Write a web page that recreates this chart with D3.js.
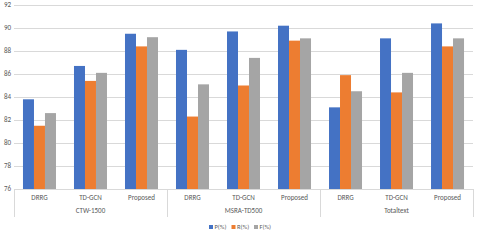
<!DOCTYPE html>
<html>
<head>
<meta charset="utf-8">
<script src="https://cdn.jsdelivr.net/npm/d3@7"></script>
<style>
  body { margin: 0; background: #fff; }
  svg { display: block; font-family: Carlito, "Liberation Sans", Arial, sans-serif; }
  .grid line { stroke: #d9d9d9; stroke-width: 1; }
  .tick-label { fill: #595959; font-size: 7px; }
</style>
</head>
<body>
<div id="chart"></div>
<script>
// data
const datasets = ['CTW-1500', 'MSRA-TD500', 'Totaltext'];
const methods = ['DRRG', 'TD-GCN', 'Proposed'];
const seriesNames = ['P(%)', 'R(%)', 'F(%)'];
const precision = [83.8, 86.7, 89.5, 88.1, 89.7, 90.2, 83.1, 89.1, 90.4];
const recall = [81.5, 85.4, 88.4, 82.3, 85.0, 88.9, 85.9, 84.4, 88.4];
const fscore = [82.6, 86.1, 89.2, 85.1, 87.4, 89.1, 84.5, 86.1, 89.1];
const yTicks = [76, 78, 80, 82, 84, 86, 88, 90, 92];

const colors = ['#4472c4', '#ed7d31', '#a5a5a5'];
const width = 480;
const height = 243;
const margin = {top: 5, right: 7, bottom: 54, left: 14};
const chartWidth = width - margin.left - margin.right;
const chartHeight = height - margin.top - margin.bottom;

const rows = [];
datasets.forEach((ds, i) => {
    methods.forEach((m, j) => {
        const k = i * methods.length + j;
        rows.push({key: ds + '|' + m, dataset: ds, method: m, values: [precision[k], recall[k], fscore[k]]});
    });
});

const svg = d3.select('#chart')
  .append('svg')
    .attr('width', width)
    .attr('height', height);

const g = svg.append('g')
    .attr('transform', `translate(${margin.left},${margin.top})`);

const xGroup = d3.scaleBand()
    .domain(datasets)
    .range([0, chartWidth]);

const xCat = d3.scaleBand()
    .domain(rows.map(d => d.key))
    .range([0, chartWidth])
    .paddingInner(0.353)
    .paddingOuter(0.176);

const xSeries = d3.scaleBand()
    .domain(seriesNames)
    .range([0, xCat.bandwidth()]);

const y = d3.scaleLinear()
    .domain([76, 92])
    .range([chartHeight, 0]);

// gridlines
g.append('g')
    .classed('grid', true)
  .selectAll('line')
    .data(yTicks)
  .enter()
  .append('line')
    .attr('x1', 0)
    .attr('x2', chartWidth)
    .attr('y1', d => Math.round(y(d)) + 0.5)
    .attr('y2', d => Math.round(y(d)) + 0.5);

// y labels
g.append('g')
  .selectAll('text')
    .data(yTicks)
  .enter()
  .append('text')
    .classed('tick-label', true)
    .attr('x', -3)
    .attr('y', d => y(d))
    .attr('dy', '0.35em')
    .attr('text-anchor', 'end')
    .text(d => d);

// bars
const cat = g.append('g')
  .selectAll('g')
    .data(rows)
  .enter()
  .append('g')
    .attr('transform', d => `translate(${xCat(d.key)},0)`);

cat.selectAll('rect')
    .data(d => d.values.map((v, i) => ({series: seriesNames[i], value: v, i})))
  .enter()
  .append('rect')
    .attr('x', d => xSeries(d.series))
    .attr('width', xSeries.bandwidth())
    .attr('y', d => y(d.value))
    .attr('height', d => chartHeight - y(d.value))
    .attr('fill', d => colors[d.i]);

// category axis (multi-level)
const axis = g.append('g')
    .attr('transform', `translate(0,${chartHeight})`);

axis.append('line')
    .attr('x1', 0).attr('x2', chartWidth)
    .attr('y1', 0.5).attr('y2', 0.5)
    .attr('stroke', '#d9d9d9');

const bounds = datasets.map(d => xGroup(d)).concat([chartWidth]);
axis.selectAll('.sep')
    .data(bounds)
  .enter()
  .append('line')
    .attr('x1', d => Math.round(d) + 0.5)
    .attr('x2', d => Math.round(d) + 0.5)
    .attr('y1', 0)
    .attr('y2', 28)
    .attr('stroke', '#d9d9d9');

axis.selectAll('.cat-label')
    .data(rows)
  .enter()
  .append('text')
    .classed('tick-label', true)
    .attr('x', d => xCat(d.key) + xCat.bandwidth() / 2)
    .attr('y', 11)
    .attr('text-anchor', 'middle')
    .text(d => d.method);

axis.selectAll('.group-label')
    .data(datasets)
  .enter()
  .append('text')
    .classed('tick-label', true)
    .attr('x', d => xGroup(d) + xGroup.bandwidth() / 2)
    .attr('y', 24)
    .attr('text-anchor', 'middle')
    .text(d => d);

// legend
const legend = svg.append('g')
    .attr('transform', `translate(209,${height - 16})`);

const item = legend.selectAll('g')
    .data(seriesNames)
  .enter()
  .append('g')
    .attr('transform', (d, i) => `translate(${i * 22.5},0)`);

item.append('rect')
    .attr('width', 4)
    .attr('height', 4)
    .attr('y', -2)
    .attr('fill', (d, i) => colors[i]);

item.append('text')
    .classed('tick-label', true)
    .attr('x', 5.5)
    .attr('y', 0)
    .attr('dy', '0.35em')
    .style('font-size', '6.5px')
    .text(d => d);
</script>
</body>
</html>
